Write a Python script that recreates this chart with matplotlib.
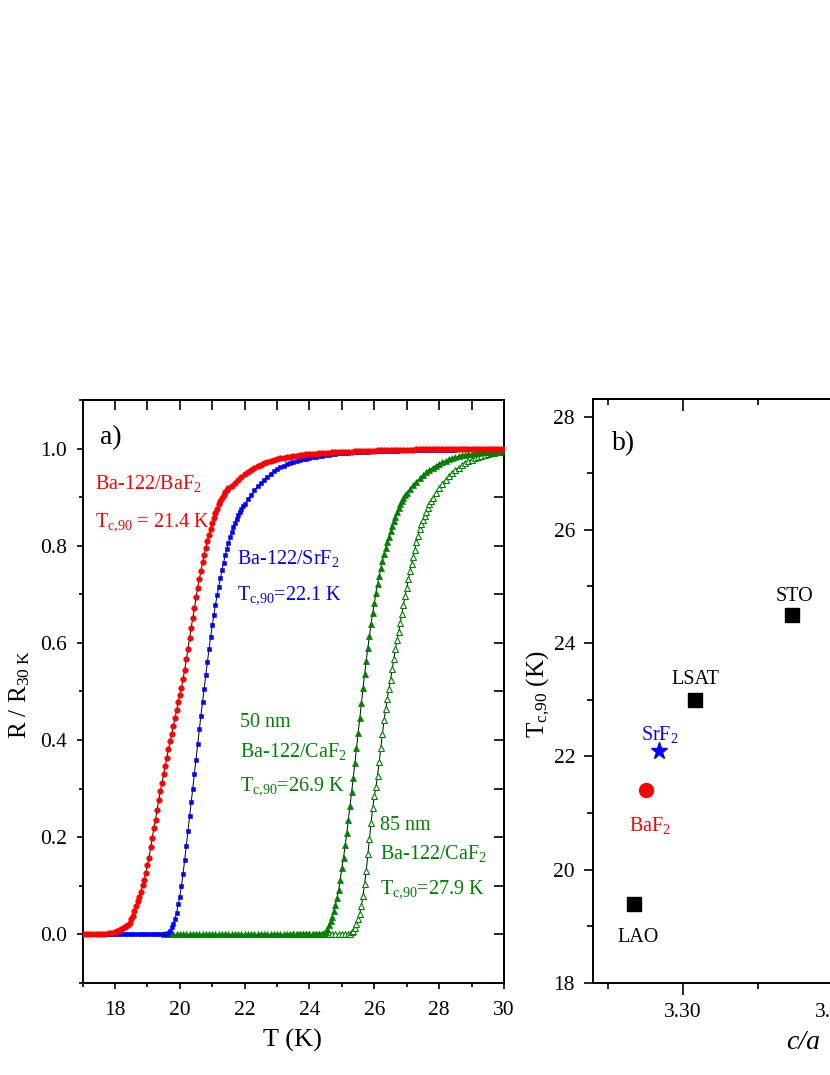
import matplotlib
matplotlib.use('Agg')
import matplotlib.pyplot as plt
from matplotlib.ticker import MultipleLocator, FormatStrFormatter, NullFormatter

plt.rcParams['font.family'] = ['Liberation Serif', 'DejaVu Serif']
plt.rcParams['mathtext.fontset'] = 'custom'
plt.rcParams['mathtext.rm'] = 'Liberation Serif'
plt.rcParams['mathtext.it'] = 'Liberation Serif:italic'
plt.rcParams['mathtext.default'] = 'regular'

# ---------------- panel a data: R / R30K vs T ----------------
T_red = [17.0, 17.1, 17.2, 17.3, 17.4, 17.5, 17.6, 17.7, 17.8, 17.9,
         18.0, 18.05, 18.1, 18.15, 18.2, 18.25, 18.3, 18.35, 18.4, 18.45,
         18.5, 18.55, 18.6, 18.65, 18.7, 18.75, 18.8, 18.85, 18.9, 18.95,
         19.0, 19.05, 19.1, 19.15, 19.2, 19.25, 19.3, 19.35, 19.4, 19.45,
         19.5, 19.55, 19.6, 19.65, 19.7, 19.75, 19.8, 19.85, 19.9, 19.95,
         20.0, 20.05, 20.1, 20.15, 20.2, 20.25, 20.3, 20.35, 20.4, 20.45,
         20.5, 20.55, 20.6, 20.65, 20.7, 20.75, 20.8, 20.85, 20.9, 20.95,
         21.0, 21.05, 21.1, 21.15, 21.2, 21.25, 21.3, 21.35, 21.4, 21.45,
         21.5,
         21.6, 21.7, 21.8, 21.9, 22.0, 22.1, 22.2, 22.3, 22.4, 22.5,
         22.6, 22.7, 22.8, 22.9, 23.0, 23.1, 23.2, 23.3, 23.4, 23.5,
         23.6, 23.7, 23.8, 23.9, 24.0, 24.1, 24.2, 24.3, 24.4, 24.5,
         24.6, 24.7, 24.8, 24.9, 25.0, 25.1, 25.2, 25.3, 25.4, 25.5,
         25.6, 25.7, 25.8, 25.9, 26.0, 26.1, 26.2, 26.3, 26.4, 26.5,
         26.6, 26.7, 26.8, 26.9, 27.0, 27.1, 27.2, 27.3, 27.4, 27.5,
         27.6, 27.7, 27.8, 27.9, 28.0, 28.1, 28.2, 28.3, 28.4, 28.5,
         28.6, 28.7, 28.8, 28.9, 29.0, 29.1, 29.2, 29.3, 29.4, 29.5,
         29.6, 29.7, 29.8, 29.9, 30.0]
R_red = [0.000, 0.000, 0.000, 0.000, 0.000, 0.001, 0.001, 0.001, 0.002, 0.003,
         0.004, 0.006, 0.008, 0.010, 0.012, 0.014, 0.016, 0.018, 0.020, 0.024,
         0.031, 0.038, 0.048, 0.058, 0.068, 0.078, 0.088, 0.101, 0.113, 0.127,
         0.143, 0.158, 0.179, 0.199, 0.218, 0.236, 0.256, 0.277, 0.295, 0.312,
         0.330, 0.347, 0.364, 0.381, 0.398, 0.413, 0.428, 0.445, 0.462, 0.478,
         0.493, 0.508, 0.525, 0.545, 0.566, 0.588, 0.610, 0.631, 0.651, 0.671,
         0.694, 0.714, 0.731, 0.749, 0.766, 0.781, 0.796, 0.810, 0.823, 0.835,
         0.846, 0.857, 0.867, 0.876, 0.885, 0.893, 0.899, 0.905, 0.910, 0.914,
         0.918,
         0.924, 0.930, 0.936, 0.942, 0.947, 0.952, 0.956, 0.960, 0.964, 0.967,
         0.970, 0.972, 0.974, 0.976, 0.978, 0.980, 0.981, 0.982, 0.983, 0.984,
         0.985, 0.986, 0.987, 0.988, 0.988, 0.989, 0.989, 0.990, 0.990, 0.991,
         0.991, 0.992, 0.992, 0.993, 0.993, 0.994, 0.994, 0.994, 0.995, 0.995,
         0.995, 0.996, 0.996, 0.996, 0.996, 0.997, 0.997, 0.997, 0.997, 0.997,
         0.998, 0.998, 0.998, 0.998, 0.998, 0.998, 0.998, 0.999, 0.999, 0.999,
         0.999, 0.999, 0.999, 0.999, 0.999, 0.999, 1.000, 1.000, 1.000, 1.000,
         1.000, 1.000, 1.000, 1.000, 1.000, 1.000, 1.000, 1.000, 1.000, 1.000,
         1.000, 1.000, 1.000, 1.000, 1.000]

T_blue = [17.0, 17.1, 17.2, 17.3, 17.4, 17.5, 17.6, 17.7, 17.8, 17.9,
          18.0, 18.1, 18.2, 18.3, 18.4, 18.5, 18.6, 18.7, 18.8, 18.9,
          19.0, 19.1, 19.2, 19.3, 19.4, 19.5,
          19.55, 19.6, 19.65, 19.7, 19.75, 19.8, 19.85, 19.9, 19.95, 20.0,
          20.05, 20.1, 20.15, 20.2, 20.25, 20.3, 20.35, 20.4, 20.45, 20.5,
          20.55, 20.6, 20.65, 20.7, 20.75, 20.8, 20.85, 20.9, 20.95, 21.0,
          21.05, 21.1, 21.15, 21.2, 21.25, 21.3, 21.35, 21.4, 21.45, 21.5,
          21.55, 21.6, 21.65, 21.7, 21.75, 21.8, 21.85, 21.9, 21.95, 22.0,
          22.1, 22.2, 22.3, 22.4, 22.5, 22.6, 22.7, 22.8, 22.9, 23.0,
          23.1, 23.2, 23.3, 23.4, 23.5, 23.6, 23.7, 23.8, 23.9, 24.0,
          24.1, 24.2, 24.3, 24.4, 24.5, 24.6, 24.7, 24.8, 24.9, 25.0,
          25.1, 25.2, 25.3, 25.4, 25.5, 25.6, 25.7, 25.8, 25.9, 26.0,
          26.1, 26.2, 26.3, 26.4, 26.5, 26.6, 26.7, 26.8, 26.9, 27.0,
          27.1, 27.2, 27.3, 27.4, 27.5, 27.6, 27.7, 27.8, 27.9, 28.0,
          28.1, 28.2, 28.3, 28.4, 28.5, 28.6, 28.7, 28.8, 28.9, 29.0,
          29.1, 29.2, 29.3, 29.4, 29.5, 29.6, 29.7, 29.8, 29.9, 30.0]
R_blue = [0.000, 0.000, 0.000, 0.000, 0.000, 0.000, 0.000, 0.000, 0.000, 0.000,
          0.000, 0.000, 0.000, 0.000, 0.000, 0.000, 0.000, 0.000, 0.000, 0.000,
          0.000, 0.000, 0.000, 0.000, 0.000, 0.000,
          0.000, 0.001, 0.003, 0.008, 0.015, 0.022, 0.031, 0.045, 0.062, 0.078,
          0.100, 0.125, 0.153, 0.182, 0.212, 0.243, 0.272, 0.300, 0.330, 0.360,
          0.392, 0.422, 0.450, 0.478, 0.505, 0.533, 0.560, 0.587, 0.612, 0.636,
          0.658, 0.679, 0.698, 0.716, 0.733, 0.750, 0.765, 0.780, 0.793, 0.806,
          0.817, 0.828, 0.838, 0.847, 0.856, 0.863, 0.869, 0.875, 0.881, 0.886,
          0.896, 0.905, 0.914, 0.922, 0.929, 0.936, 0.942, 0.948, 0.953, 0.958,
          0.962, 0.965, 0.968, 0.970, 0.972, 0.974, 0.976, 0.978, 0.979, 0.981,
          0.982, 0.983, 0.984, 0.985, 0.986, 0.987, 0.988, 0.989, 0.990, 0.990,
          0.991, 0.991, 0.992, 0.992, 0.993, 0.993, 0.994, 0.994, 0.995, 0.995,
          0.995, 0.995, 0.996, 0.996, 0.996, 0.996, 0.996, 0.997, 0.997, 0.997,
          0.997, 0.997, 0.997, 0.998, 0.998, 0.998, 0.998, 0.998, 0.998, 0.998,
          0.998, 0.998, 0.998, 0.998, 0.998, 0.999, 0.999, 0.999, 0.999, 0.999,
          0.999, 0.999, 0.999, 0.999, 0.999, 1.000, 1.000, 1.000, 1.000, 1.000]

T_g50 = [19.5, 19.6, 19.7, 19.8, 19.9, 20.0, 20.1, 20.2, 20.3, 20.4,
         20.5, 20.6, 20.7, 20.8, 20.9, 21.0, 21.1, 21.2, 21.3, 21.4,
         21.5, 21.6, 21.7, 21.8, 21.9, 22.0, 22.1, 22.2, 22.3, 22.4,
         22.5, 22.6, 22.7, 22.8, 22.9, 23.0, 23.1, 23.2, 23.3, 23.4,
         23.5, 23.6, 23.7, 23.8, 23.9, 24.0, 24.1, 24.2, 24.3, 24.4,
         24.45, 24.5, 24.55, 24.6, 24.65, 24.7, 24.75, 24.8, 24.85, 24.9,
         24.95, 25.0, 25.05, 25.1, 25.15, 25.2, 25.25, 25.3, 25.35, 25.4,
         25.45, 25.5, 25.55, 25.6, 25.65, 25.7, 25.75, 25.8, 25.85, 25.9,
         25.95, 26.0, 26.05, 26.1, 26.15, 26.2, 26.25, 26.3, 26.35, 26.4,
         26.45, 26.5, 26.55, 26.6, 26.65, 26.7, 26.75, 26.8, 26.85, 26.9,
         26.95, 27.0,
         27.1, 27.2, 27.3, 27.4, 27.5, 27.6, 27.7, 27.8, 27.9, 28.0,
         28.1, 28.2, 28.3, 28.4, 28.5, 28.6, 28.7, 28.8, 28.9, 29.0,
         29.1, 29.2, 29.3, 29.4, 29.5, 29.6, 29.7, 29.8, 29.9, 30.0]
R_g50 = [0.000, 0.000, 0.000, 0.000, 0.000, 0.000, 0.000, 0.000, 0.000, 0.000,
         0.000, 0.000, 0.000, 0.000, 0.000, 0.000, 0.000, 0.000, 0.000, 0.000,
         0.000, 0.000, 0.000, 0.000, 0.000, 0.000, 0.000, 0.000, 0.000, 0.000,
         0.000, 0.000, 0.000, 0.000, 0.000, 0.000, 0.000, 0.000, 0.000, 0.000,
         0.000, 0.000, 0.000, 0.000, 0.000, 0.000, 0.000, 0.000, 0.000, 0.000,
         0.002, 0.005, 0.011, 0.019, 0.027, 0.036, 0.048, 0.061, 0.075, 0.091,
         0.113, 0.137, 0.158, 0.183, 0.208, 0.236, 0.264, 0.293, 0.322, 0.352,
         0.383, 0.415, 0.446, 0.477, 0.507, 0.536, 0.563, 0.590, 0.615, 0.639,
         0.662, 0.683, 0.703, 0.721, 0.738, 0.754, 0.769, 0.783, 0.795, 0.807,
         0.819, 0.830, 0.841, 0.851, 0.860, 0.869, 0.877, 0.885, 0.892, 0.898,
         0.904, 0.909,
         0.917, 0.925, 0.932, 0.939, 0.945, 0.951, 0.956, 0.961, 0.965, 0.969,
         0.972, 0.975, 0.978, 0.980, 0.982, 0.984, 0.986, 0.987, 0.988, 0.989,
         0.990, 0.991, 0.992, 0.992, 0.993, 0.993, 0.994, 0.995, 0.996, 0.997]

T_g85 = [23.5, 23.6, 23.7, 23.8, 23.9, 24.0, 24.1, 24.2, 24.3, 24.4,
         24.5, 24.6, 24.7, 24.8, 24.9, 25.0, 25.1, 25.2,
         25.25, 25.3, 25.35, 25.4, 25.45, 25.5, 25.55, 25.6, 25.65, 25.7,
         25.75, 25.8, 25.85, 25.9, 25.95, 26.0, 26.05, 26.1, 26.15, 26.2,
         26.25, 26.3, 26.35, 26.4, 26.45, 26.5, 26.55, 26.6, 26.65, 26.7,
         26.75, 26.8, 26.85, 26.9, 26.95, 27.0, 27.05, 27.1, 27.15, 27.2,
         27.25, 27.3, 27.35, 27.4, 27.45, 27.5, 27.55, 27.6, 27.65, 27.7,
         27.75, 27.8,
         27.9, 28.0, 28.1, 28.2, 28.3, 28.4, 28.5, 28.6, 28.7, 28.8,
         28.9, 29.0, 29.1, 29.2, 29.3, 29.4, 29.5, 29.6, 29.7, 29.8,
         29.9, 30.0]
R_g85 = [0.000, 0.000, 0.000, 0.000, 0.000, 0.000, 0.000, 0.000, 0.000, 0.000,
         0.000, 0.000, 0.000, 0.000, 0.000, 0.000, 0.000, 0.000,
         0.001, 0.004, 0.008, 0.014, 0.021, 0.031, 0.042, 0.058, 0.080, 0.104,
         0.130, 0.165, 0.196, 0.230, 0.260, 0.285, 0.303, 0.327, 0.354, 0.384,
         0.413, 0.441, 0.463, 0.485, 0.505, 0.524, 0.546, 0.567, 0.587, 0.605,
         0.622, 0.642, 0.660, 0.679, 0.697, 0.714, 0.731, 0.748, 0.763, 0.777,
         0.792, 0.807, 0.821, 0.834, 0.845, 0.854, 0.862, 0.870, 0.877, 0.885,
         0.892, 0.898,
         0.909, 0.919, 0.928, 0.936, 0.943, 0.950, 0.956, 0.961, 0.966, 0.970,
         0.974, 0.977, 0.980, 0.983, 0.985, 0.987, 0.989, 0.990, 0.991, 0.992,
         0.993, 0.994]

# ---------------- panel b data: Tc,90 vs c/a ----------------
substrates = ['LAO', 'BaF$_2$', 'SrF$_2$', 'LSAT', 'STO']
c_over_a = [3.2839, 3.2878, 3.2919, 3.3041, 3.3363]
tc90 = [19.4, 21.4, 22.1, 23.0, 24.5]

RED = '#ff0000'
BLUE = '#0000ff'
GREEN = '#008000'
TC = r'T$_{c{,}90}$'

fig = plt.figure(figsize=(8.3, 10.75), dpi=100)

# ======================= panel a =======================
axa = fig.add_axes([0.0995, 0.0856, 0.5077, 0.5423])
axa.plot(T_g85, R_g85, color='k', lw=0.7, marker='^', ms=4.2, mfc='white',
         mec=GREEN, mew=0.8, zorder=2)
axa.plot(T_g50, R_g50, color='k', lw=0.7, marker='^', ms=4.2, mfc=GREEN,
         mec=GREEN, mew=0.5, zorder=3)
axa.plot(T_blue, R_blue, color='k', lw=0.7, marker='s', ms=3.4, mfc=BLUE,
         mec=BLUE, mew=0.4, zorder=4)
axa.plot(T_red, R_red, color='k', lw=0.7, marker='o', ms=4.0, mfc=RED,
         mec=RED, mew=0.4, zorder=5)

axa.set_xlim(17, 30)
axa.set_ylim(-0.1, 1.1)
axa.xaxis.set_major_locator(MultipleLocator(2))
axa.xaxis.set_minor_locator(MultipleLocator(1))
axa.yaxis.set_major_locator(MultipleLocator(0.2))
axa.yaxis.set_minor_locator(MultipleLocator(0.1))
axa.yaxis.set_major_formatter(FormatStrFormatter('%.1f'))
axa.tick_params(which='both', direction='out', top=False, right=False,
                labelsize=15.5, width=1.2)
axa.tick_params(which='major', length=4.5)
axa.tick_params(which='minor', length=3)
axa.tick_params(axis='x', which='major', pad=8.5)
axa.tick_params(axis='y', which='major', pad=6.5)
for s in axa.spines.values():
    s.set_linewidth(1.4)

sxa = axa.secondary_xaxis('top')
sxa.xaxis.set_major_locator(MultipleLocator(2))
sxa.xaxis.set_minor_locator(MultipleLocator(1))
sxa.xaxis.set_major_formatter(NullFormatter())
sxa.tick_params(which='both', direction='in', width=1.2)
sxa.tick_params(which='major', length=7)
sxa.tick_params(which='minor', length=7)
sxa.spines['top'].set_linewidth(1.4)
sya = axa.secondary_yaxis('right')
sya.yaxis.set_major_locator(MultipleLocator(0.2))
sya.yaxis.set_minor_locator(MultipleLocator(0.1))
sya.yaxis.set_major_formatter(NullFormatter())
sya.tick_params(which='both', direction='in', width=1.2)
sya.tick_params(which='major', length=7)
sya.tick_params(which='minor', length=7)
sya.spines['right'].set_linewidth(1.4)

axa.set_xlabel('T (K)', fontsize=19, va='center')
axa.xaxis.set_label_coords(0.499, -0.098)
axa.set_ylabel(r'R / R$_{30\ K}$', fontsize=18, va='center')
axa.yaxis.set_label_coords(-0.150, 0.495)

axa.text(17.54, 1.009, 'a)', fontsize=20, ha='left', va='baseline')
axa.text(17.38, 0.917, 'Ba-122/BaF$_2$', color=RED, fontsize=14.5, va='baseline')
axa.text(17.38, 0.841, TC + ' = 21.4 K', color=RED, fontsize=14.5, va='baseline')
axa.text(21.76, 0.762, 'Ba-122/SrF$_2$', color=BLUE, fontsize=14.5, va='baseline')
axa.text(21.76, 0.690, TC + '=22.1 K', color=BLUE, fontsize=14.5, va='baseline')
axa.text(21.86, 0.426, '50 nm', color=GREEN, fontsize=14.5, va='baseline')
axa.text(21.86, 0.366, 'Ba-122/CaF$_2$', color=GREEN, fontsize=14.5, va='baseline')
axa.text(21.86, 0.296, TC + '=26.9 K', color=GREEN, fontsize=14.5, va='baseline')
axa.text(26.18, 0.214, '85 nm', color=GREEN, fontsize=14.5, va='baseline')
axa.text(26.18, 0.156, 'Ba-122/CaF$_2$', color=GREEN, fontsize=14.5, va='baseline')
axa.text(26.18, 0.084, TC + '=27.9 K', color=GREEN, fontsize=14.5, va='baseline')

# ======================= panel b =======================
axb = fig.add_axes([0.7141, 0.0858, 0.3260, 0.5430])
styles = {
    'LAO': dict(marker='s', color='k', ms=9.5),
    'BaF$_2$': dict(marker='o', color=RED, ms=10),
    'SrF$_2$': dict(marker='*', color=BLUE, ms=12.5),
    'LSAT': dict(marker='s', color='k', ms=9.5),
    'STO': dict(marker='s', color='k', ms=9.5),
}
for name, ca, tc in zip(substrates, c_over_a, tc90):
    st = styles[name]
    axb.plot([ca], [tc], linestyle='none', marker=st['marker'], ms=st['ms'],
             mfc=st['color'], mec=st['color'], clip_on=False)

axb.set_xlim(3.27, 3.36)
axb.set_ylim(18, 28.31)
axb.xaxis.set_major_locator(MultipleLocator(0.05))
axb.xaxis.set_minor_locator(MultipleLocator(0.025))
axb.xaxis.set_major_formatter(FormatStrFormatter('%.2f'))
axb.yaxis.set_major_locator(MultipleLocator(2))
axb.yaxis.set_minor_locator(MultipleLocator(1))
axb.tick_params(which='both', direction='out', top=False, right=False,
                labelsize=15.5, width=1.2)
axb.tick_params(axis='x', which='major', length=8.8, pad=6)
axb.tick_params(axis='x', which='minor', length=4.3)
axb.tick_params(axis='y', which='major', length=6.7, pad=6)
axb.tick_params(axis='y', which='minor', length=4.3)
for s in axb.spines.values():
    s.set_linewidth(1.4)
sxb = axb.secondary_xaxis('top')
sxb.xaxis.set_major_locator(MultipleLocator(0.05))
sxb.xaxis.set_minor_locator(MultipleLocator(0.025))
sxb.xaxis.set_major_formatter(NullFormatter())
sxb.tick_params(which='both', direction='in', width=1.2)
sxb.tick_params(which='major', length=8.4)
sxb.tick_params(which='minor', length=4)
sxb.spines['top'].set_linewidth(1.4)

axb.set_xlabel('c/a', fontsize=20, style='italic', va='center')
axb.xaxis.set_label_coords(0.778, -0.1016)
axb.set_ylabel(TC + ' (K)', fontsize=18, va='center')
axb.yaxis.set_label_coords(-0.202, 0.495)

axb.text(3.2765, 27.40, 'b)', fontsize=20, ha='left', va='baseline')
axb.text(3.3372, 24.75, 'STO', fontsize=14.5, ha='center', va='baseline')
axb.text(3.3041, 23.27, 'LSAT', fontsize=14.5, ha='center', va='baseline')
axb.text(3.2922, 22.295, 'SrF$_2$', color=BLUE, fontsize=14.5, ha='center', va='baseline')
axb.text(3.2889, 20.68, 'BaF$_2$', color=RED, fontsize=14.5, ha='center', va='baseline')
axb.text(3.2850, 18.72, 'LAO', fontsize=14.5, ha='center', va='baseline')

fig.savefig('out.png', dpi=100)
